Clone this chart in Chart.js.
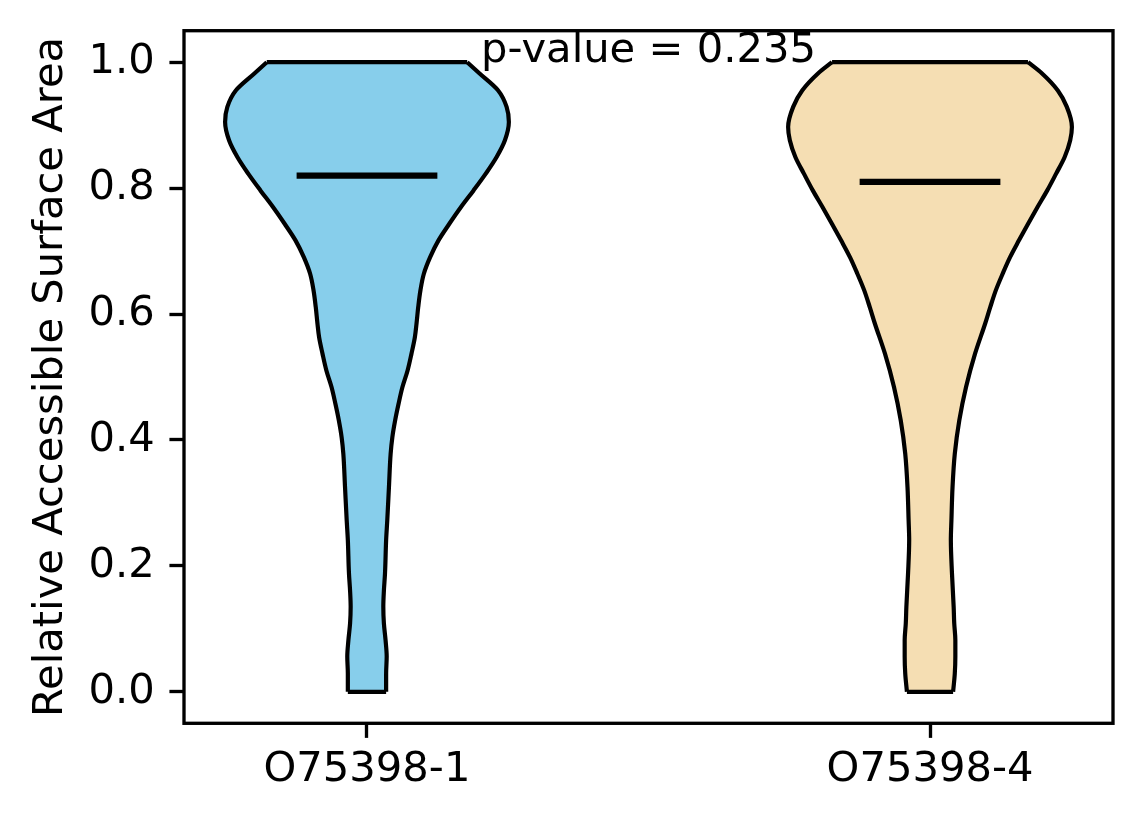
<!DOCTYPE html>
<html><head><meta charset="utf-8">
<script src="https://cdn.jsdelivr.net/npm/chart.js@4.4.1/dist/chart.umd.min.js"></script>
<style>html,body{margin:0;padding:0;background:#fff;} canvas{display:block;}</style>
</head><body>
<canvas id="c" width="1144" height="824" style="width:1144px;height:824px"></canvas>
<script>
// ---- data ----
const categories = ['O75398-1', 'O75398-4'];
const positions = [1, 2];
const violinColors = ['#87CEEB', '#F5DEB3'];
const medians = [0.82, 0.81];

// violin 1: density half-widths (x units) at y levels
const yLevels1 = [0.000, 0.029, 0.056, 0.082, 0.109, 0.135, 0.160, 0.188, 0.241, 0.272, 0.325, 0.378, 0.404, 0.431, 0.457, 0.484, 0.510, 0.537, 0.563, 0.585, 0.611, 0.638, 0.664, 0.690, 0.717, 0.743, 0.770, 0.796, 0.823, 0.849, 0.876, 0.905, 0.929, 0.955, 0.982, 1.000];
const halfWidths1 = [0.034, 0.034, 0.035, 0.033, 0.030, 0.029, 0.030, 0.032, 0.034, 0.036, 0.039, 0.042, 0.045, 0.050, 0.056, 0.063, 0.072, 0.079, 0.085, 0.088, 0.091, 0.095, 0.101, 0.112, 0.127, 0.146, 0.167, 0.189, 0.211, 0.230, 0.245, 0.252, 0.248, 0.233, 0.200, 0.178];

// violin 2
const yLevels2 = [0.000, 0.029, 0.056, 0.082, 0.109, 0.135, 0.188, 0.241, 0.272, 0.325, 0.378, 0.431, 0.484, 0.537, 0.585, 0.611, 0.638, 0.664, 0.690, 0.717, 0.743, 0.770, 0.796, 0.823, 0.849, 0.876, 0.897, 0.929, 0.955, 0.982, 1.000];
const halfWidths2 = [0.041, 0.044, 0.045, 0.045, 0.043, 0.042, 0.039, 0.037, 0.038, 0.040, 0.044, 0.052, 0.064, 0.080, 0.098, 0.107, 0.117, 0.129, 0.142, 0.158, 0.174, 0.191, 0.208, 0.224, 0.239, 0.249, 0.252, 0.243, 0.227, 0.199, 0.174];

const yTickValues = [0, 0.2, 0.4, 0.6, 0.8, 1.0];
const yTickLabels = ['0.0', '0.2', '0.4', '0.6', '0.8', '1.0'];
const yAxisTitle = 'Relative Accessible Surface Area';
const pValueText = 'p-value = 0.235';
const pValuePos = {x: 1.5, y: 1.0};
const medianHalfLength = 0.125;

// ---- build datasets ----
const violins = [
  {levels: yLevels1, hw: halfWidths1},
  {levels: yLevels2, hw: halfWidths2}
];
const FONT = 'DejaVu Sans';
const FS = 41.67;
const EDGE = 4.2;
const datasets = [];
violins.forEach((v, i) => {
  const p = positions[i];
  const n = v.levels.length;
  datasets.push({
    indexAxis: 'y',
    data: v.levels.map((y, k) => ({x: p - v.hw[k], y: y})),
    borderColor: '#000', borderWidth: EDGE, backgroundColor: violinColors[i],
    fill: '+1', pointRadius: 0, cubicInterpolationMode: 'monotone', order: 3
  });
  datasets.push({
    indexAxis: 'y',
    data: v.levels.map((y, k) => ({x: p + v.hw[k], y: y})),
    borderColor: '#000', borderWidth: EDGE, backgroundColor: violinColors[i],
    fill: false, pointRadius: 0, cubicInterpolationMode: 'monotone', order: 3
  });
  // top and bottom caps
  datasets.push({
    data: [{x: p - v.hw[n - 1], y: v.levels[n - 1]}, {x: p + v.hw[n - 1], y: v.levels[n - 1]}],
    borderColor: '#000', borderWidth: EDGE, fill: false, pointRadius: 0, order: 2
  });
  datasets.push({
    data: [{x: p - v.hw[0], y: v.levels[0]}, {x: p + v.hw[0], y: v.levels[0]}],
    borderColor: '#000', borderWidth: EDGE, fill: false, pointRadius: 0, order: 2
  });
});
positions.forEach((p, i) => {
  datasets.push({
    data: [{x: p - medianHalfLength, y: medians[i]}, {x: p + medianHalfLength, y: medians[i]}],
    borderColor: '#000', borderWidth: 6.25, fill: false, pointRadius: 0, order: 0,
    borderCapStyle: 'butt'
  });
});

const framePlugin = {
  id: 'frame',
  afterDatasetsDraw(chart) {
    const {ctx, chartArea: a, scales} = chart;
    ctx.save();
    ctx.font = FS + 'px "' + FONT + '"';
    ctx.fillStyle = '#000';
    ctx.textAlign = 'center';
    ctx.textBaseline = 'alphabetic';
    ctx.fillText(pValueText, scales.x.getPixelForValue(pValuePos.x), scales.y.getPixelForValue(pValuePos.y));
    ctx.strokeStyle = '#000';
    ctx.lineWidth = 3.33;
    ctx.strokeRect(a.left, a.top, a.right - a.left, a.bottom - a.top);
    ctx.restore();
  }
};

function zeroPad(s) { s.paddingTop = 0; s.paddingBottom = 0; s.paddingLeft = 0; s.paddingRight = 0; }

Chart.defaults.font.family = FONT;
Chart.defaults.font.size = FS;
Chart.defaults.color = '#000';

new Chart(document.getElementById('c'), {
  type: 'line',
  data: {datasets: datasets},
  options: {
    responsive: false,
    animation: false,
    devicePixelRatio: 1,
    layout: {padding: {left: 0, right: 31, top: 30.7, bottom: 0}},
    plugins: {legend: {display: false}, tooltip: {enabled: false}, filler: {drawTime: 'beforeDatasetsDraw'}},
    scales: {
      x: {
        type: 'linear', min: 0.675, max: 2.325,
        afterBuildTicks: s => { s.ticks = positions.map(v => ({value: v})); },
        afterFit: s => { s.height = 100.7; zeroPad(s); },
        ticks: {
          padding: 7,
          callback: (v) => { const i = positions.indexOf(v); return i >= 0 ? categories[i] : ''; }
        },
        grid: {drawOnChartArea: false, drawTicks: true, tickLength: 14.58, tickWidth: 3.33, tickColor: '#000'},
        border: {display: false}
      },
      y: {
        type: 'linear', min: -0.05, max: 1.05,
        afterBuildTicks: s => { s.ticks = yTickValues.map(v => ({value: v})); },
        afterFit: s => { s.width = 184; zeroPad(s); },
        ticks: {
          padding: 14.6,
          callback: (v) => { const i = yTickValues.findIndex(t => Math.abs(t - v) < 1e-9); return i >= 0 ? yTickLabels[i] : ''; }
        },
        grid: {drawOnChartArea: false, drawTicks: true, tickLength: 14.58, tickWidth: 3.33, tickColor: '#000'},
        border: {display: false},
        title: {display: true, text: yAxisTitle, padding: {top: 26, bottom: 0}}
      }
    }
  },
  plugins: [framePlugin]
});
</script>
</body></html>
